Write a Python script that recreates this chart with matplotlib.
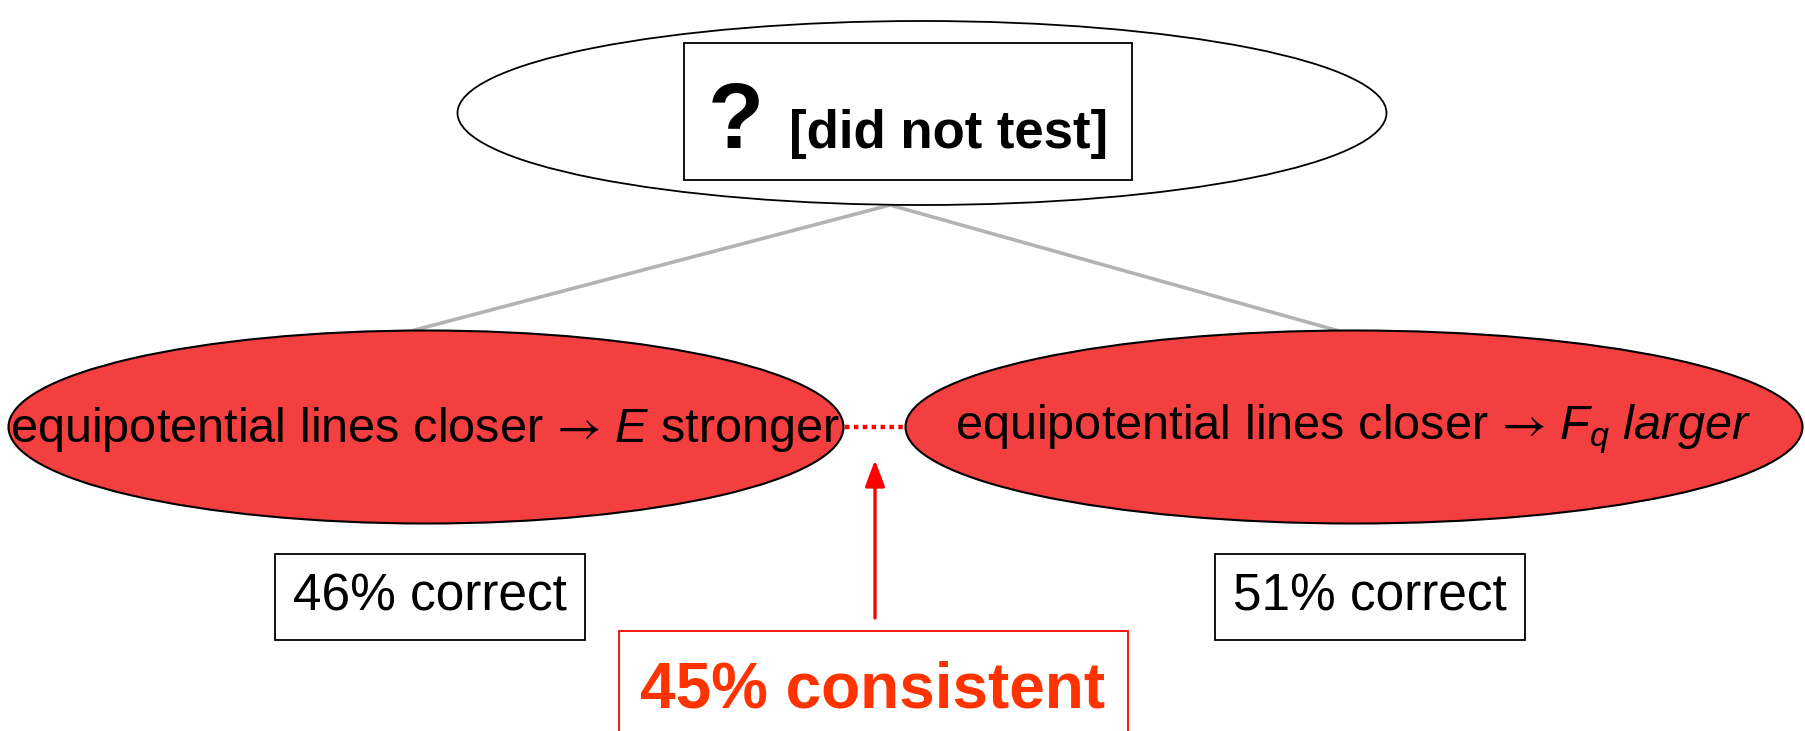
import matplotlib.pyplot as plt
from matplotlib.patches import Ellipse, Rectangle

plt.rcParams["font.family"] = ["Liberation Sans", "DejaVu Sans"]
plt.rcParams["mathtext.fontset"] = "custom"
plt.rcParams["mathtext.rm"] = "Liberation Sans"
plt.rcParams["mathtext.it"] = "Liberation Sans:italic"
plt.rcParams["mathtext.bf"] = "Liberation Sans:bold"
plt.rcParams["mathtext.sf"] = "STIXGeneral"

# diagram content
top_mark = "?"
top_label = "[did not test]"
hypotheses = [
    "equipotential lines closer $\\mathsf{→}$ $E$ stronger",
    "equipotential lines closer $\\mathsf{→}$ $F_q$ $\\mathit{larger}$",
]
pct_correct = [46, 51]
pct_consistent = 45

RED_FILL = "#f33f3f"
W, H = 1805, 731

fig = plt.figure(figsize=(W / 100, H / 100), dpi=100)
ax = fig.add_axes([0, 0, 1, 1])
ax.set_xlim(0, W)
ax.set_ylim(H, 0)
ax.axis("off")

# layout (pixel units)
top_c, top_w, top_h = (922, 113), 929, 184
hyp_c = [(426, 427), (1354, 427)]
hyp_w = [835, 897]
hyp_h = 193
box_c = [(430, 597), (1370, 597)]

# connecting lines from the top node
for cx, _ in hyp_c:
    ax.plot([890, cx - 15], [205, 331], color="#b3b3b3", lw=2.6, zorder=1)

ax.add_patch(Ellipse(top_c, top_w, top_h, facecolor="white",
                     edgecolor="black", lw=1.3, zorder=2))
ax.add_patch(Rectangle((684, 43), 448, 137, facecolor="white",
                       edgecolor="black", lw=1.3, zorder=3))
ax.text(736, 148, top_mark, fontsize=66, fontweight="bold",
        ha="center", va="baseline", zorder=4)
ax.text(789, 148, top_label, fontsize=38, fontweight="bold",
        ha="left", va="baseline", zorder=4)

for (cx, cy), w, label in zip(hyp_c, hyp_w, hypotheses):
    ax.add_patch(Ellipse((cx, cy), w, hyp_h, facecolor=RED_FILL,
                         edgecolor="black", lw=1.5, zorder=2))
    ax.text(cx - 1, cy + 2, label, fontsize=35, ha="center", va="center",
            zorder=4)

# dotted link between the two hypotheses
ax.plot([845, 905], [427, 427], color="red", lw=3.2, ls=(0, (1, 1)), zorder=3)

for (cx, cy), p in zip(box_c, pct_correct):
    ax.text(cx, cy, f"{p}% correct", fontsize=37, ha="center", va="center",
            bbox=dict(boxstyle="square,pad=0.36", facecolor="white",
                      edgecolor="black", lw=1.3), zorder=4)

ax.annotate("", xy=(875, 460), xytext=(875, 618),
            arrowprops=dict(arrowstyle="-|>,head_length=1.6,head_width=0.6",
                            color="red", lw=2.4, shrinkA=0, shrinkB=0),
            zorder=4)
ax.add_patch(Rectangle((619, 631), 509, 130, facecolor="white",
                       edgecolor="red", lw=1.3, zorder=3))
ax.text(873, 690, f"{pct_consistent}% consistent", fontsize=46,
        fontweight="bold", color="#ff3300", ha="center", va="center",
        zorder=4)

fig.savefig("out.png", dpi=100)
